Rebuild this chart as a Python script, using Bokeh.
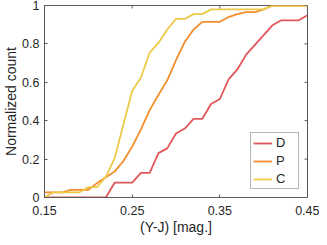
import math
from bokeh.plotting import figure
from bokeh.models import Range1d, FixedTicker
from bokeh.embed import file_html
from bokeh.resources import INLINE

# (Y-J) colour grid [mag.]
yj = [0.15, 0.16, 0.17, 0.18, 0.19, 0.20, 0.21, 0.22, 0.23, 0.24, 0.25,
      0.26, 0.27, 0.28, 0.29, 0.30, 0.31, 0.32, 0.33, 0.34, 0.35,
      0.36, 0.37, 0.38, 0.39, 0.40, 0.41, 0.42, 0.43, 0.44, 0.45]

# Normalized cumulative counts
D = [0.0, 0.0, 0.0, 0.0, 0.0, 0.0, 0.0, 0.0, 0.077, 0.077, 0.077,
     0.128, 0.128, 0.231, 0.256, 0.333, 0.359, 0.410, 0.410, 0.487, 0.513,
     0.615, 0.667, 0.744, 0.795, 0.846, 0.897, 0.923, 0.923, 0.923, 0.949]
P = [0.027, 0.027, 0.027, 0.040, 0.040, 0.040, 0.075, 0.105, 0.135, 0.190, 0.265,
     0.355, 0.455, 0.535, 0.610, 0.715, 0.810, 0.875, 0.915, 0.915, 0.915,
     0.940, 0.955, 0.965, 0.965, 0.980, 1.0, 1.0, 1.0, 1.0, 1.0]
C = [0.0, 0.027, 0.027, 0.027, 0.027, 0.054, 0.054, 0.108, 0.205, 0.380, 0.555,
     0.625, 0.755, 0.805, 0.875, 0.930, 0.930, 0.955, 0.955, 0.980, 0.980,
     0.980, 0.980, 0.980, 0.980, 0.980, 1.0, 1.0, 1.0, 1.0, 1.0]

series_names = ["D", "P", "C"]
series_values = [D, P, C]
colors = ["#E15759", "#F28E2B", "#EDC948"]

xticks = [0.15, 0.25, 0.35, 0.45]
xtick_labels = ["0.15", "0.25", "0.35", "0.45"]
yticks = [0, 0.2, 0.4, 0.6, 0.8, 1]
ytick_labels = ["0", "0.2", "0.4", "0.6", "0.8", "1"]
x_min, x_max = 0.15, 0.45
y_min, y_max = 0.0, 1.0

FONT = "Liberation Sans"
AXC = "#5a5a5a"
TXC = "#262626"

p = figure(width=319, height=237, output_backend="svg", toolbar_location=None,
           x_range=Range1d(x_min, x_max), y_range=Range1d(y_min, y_max),
           min_border_left=43, min_border_right=12, min_border_top=5,
           min_border_bottom=39, background_fill_color="white",
           border_fill_color="white")
p.grid.visible = False
p.outline_line_color = AXC
p.outline_line_width = 1

for name, vals, col in zip(series_names, series_values, colors):
    p.line(yj, vals, line_color=col, line_width=1.8, legend_label=name)

# inward ticks on the top and right edges of the box
p.ray(x=xticks, y=[y_max] * len(xticks), length=3, angle=-math.pi / 2,
      length_units="screen", line_color=AXC, line_width=1)
p.ray(x=[x_max] * len(yticks), y=yticks, length=3, angle=math.pi,
      length_units="screen", line_color=AXC, line_width=1)

def style_axis(ax, ticks, labels):
    ax.ticker = FixedTicker(ticks=ticks)
    ax.major_label_overrides = dict(zip(ticks, labels))
    ax.minor_tick_line_color = None
    ax.major_tick_in = 3
    ax.major_tick_out = 0
    ax.axis_line_color = AXC
    ax.major_tick_line_color = AXC
    ax.major_label_text_font = FONT
    ax.major_label_text_color = TXC
    ax.major_label_text_font_size = "12.5px"
    ax.axis_label_text_font = FONT
    ax.axis_label_text_font_size = "14px"
    ax.axis_label_text_font_style = "normal"
    ax.axis_label_text_color = TXC

xa = p.xaxis[0]
style_axis(xa, xticks, xtick_labels)
xa.major_label_standoff = 8
xa.axis_label = "(Y-J) [mag.]"
xa.axis_label_standoff = 1

ya = p.yaxis[0]
style_axis(ya, yticks, ytick_labels)
ya.major_label_standoff = 5
ya.axis_label = "Normalized count"
ya.axis_label_standoff = 0

lg = p.legend[0]
lg.location = "bottom_right"
lg.margin = 8
lg.padding = 2
lg.spacing = 3
lg.glyph_width = 19
lg.glyph_height = 14
lg.label_height = 14
lg.label_standoff = 4
lg.label_text_font = FONT
lg.label_text_font_size = "13px"
lg.label_text_color = TXC
lg.border_line_color = "#6b6b6b"
lg.border_line_width = 1
lg.background_fill_color = "white"
lg.background_fill_alpha = 1

open("out.html", "w").write(file_html(p, INLINE))
